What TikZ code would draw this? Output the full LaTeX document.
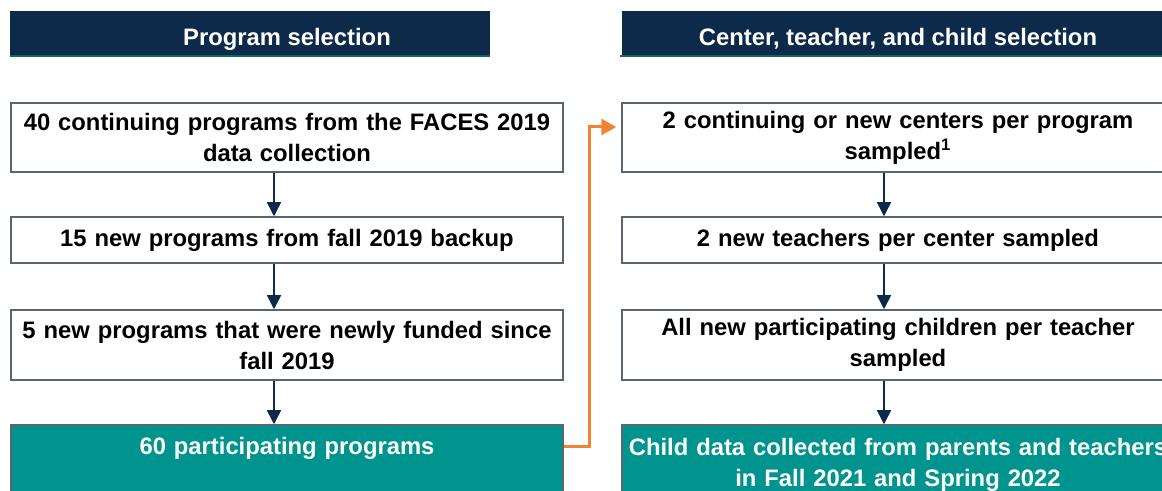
\documentclass[tikz,border=0pt]{standalone}
\usepackage{fontspec}
\setmainfont{Liberation Sans}
\usetikzlibrary{shapes,arrows.meta,positioning}

\definecolor{navy}{HTML}{0D2A4B}
\definecolor{edgegrey}{HTML}{5A6570}
\definecolor{sampleteal}{HTML}{00948F}
\definecolor{rulegreen}{HTML}{0E6B58}
\definecolor{linkorange}{HTML}{F08232}

\begin{document}
\begin{tikzpicture}[node distance=51.25pt, font=\fontsize{11.9}{15.5}\selectfont\bfseries]
    \tikzstyle{header} = [rectangle, fill=navy, text=white, minimum height=22.5pt, inner sep=0pt, text height=12.5pt, text depth=0pt]
    \tikzstyle{block} = [rectangle, draw=edgegrey, line width=0.75pt, fill=white, text width=272pt, inner xsep=2pt, inner ysep=0pt, align=center]
    \tikzstyle{result} = [block, fill=sampleteal, text=white, minimum height=34.5pt]
    \tikzstyle{line} = [draw, navy, line width=0.75pt, -{Triangle[length=7pt,width=7pt]}]
    \tikzstyle{link} = [draw, linkorange, line width=1.5pt, -{Triangle[length=7.5pt,width=8pt]}, shorten >=2.5pt]
    \tikzstyle{rule} = [draw, rulegreen, line width=1pt]

    \useasboundingbox (0,0) rectangle (581pt,-245.5pt);

    % program selection
    \node [header, minimum width=240pt] (headL) at (125pt,-16.75pt) {\hspace*{37pt}Program selection};
    \node [block, minimum height=34.5pt] (cont) at (143.5pt,-68.75pt) {40 continuing programs from the FACES 2019\\data collection};
    \node [block, below of=cont, minimum height=23pt] (backup) {15 new programs from fall 2019 backup};
    \node [block, below of=backup, node distance=52.5pt, minimum height=35pt] (funded) {5 new programs that were newly funded since\\fall 2019};
    \node [result, below of=funded, node distance=57.25pt, text depth=13.6pt] (prog) {60 participating programs};

    % center, teacher and child selection
    \node [header, minimum width=276pt] (headR) at (449pt,-16.75pt) {Center, teacher, and child selection};
    \node [block, minimum height=34.5pt] (centers) at (449pt,-68.75pt) {2 continuing or new centers per program\\sampled\textsuperscript{1}};
    \node [block, below of=centers, minimum height=23pt] (teachers) {2 new teachers per center sampled};
    \node [block, below of=teachers, node distance=52.5pt, minimum height=35pt] (children) {All new participating children per teacher\\sampled};
    \node [result, below of=children, node distance=57.25pt, text depth=13pt] (data) {Child data collected from parents and teachers\\in Fall 2021 and Spring 2022};

    \path [rule] (headL.south west) -- (headL.south east);
    \path [rule] ([xshift=-1pt]headR.south west) -- (headR.south east);

    \path [line] ([xshift=-6.5pt]cont.south) -- ([xshift=-6.5pt]backup.north);
    \path [line] ([xshift=-6.5pt]backup.south) -- ([xshift=-6.5pt]funded.north);
    \path [line] ([xshift=-6.5pt]funded.south) -- ([xshift=-6.5pt]prog.north);

    \path [line] ([xshift=-7pt]centers.south) -- ([xshift=-7pt]teachers.north);
    \path [line] ([xshift=-7pt]teachers.south) -- ([xshift=-7pt]children.north);
    \path [line] ([xshift=-7pt]children.south) -- ([xshift=-7pt]data.north);

    \path [link] ([yshift=6.25pt]prog.east) -- ++(13pt,0) |- ([yshift=5.25pt]centers.west);
\end{tikzpicture}
\end{document}
